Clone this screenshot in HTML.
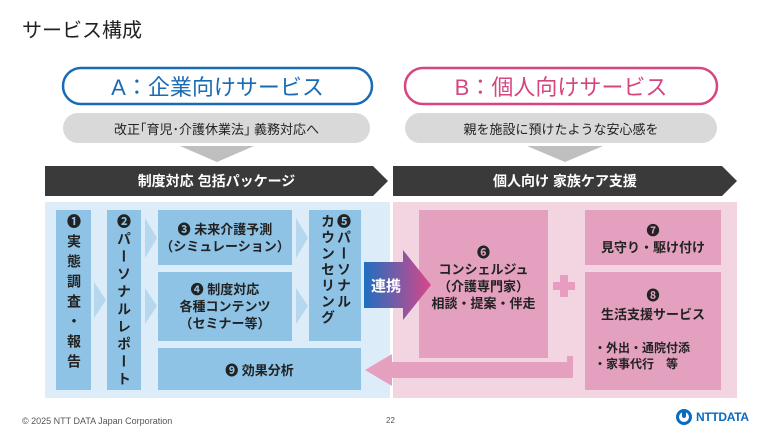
<!DOCTYPE html>
<html><head><meta charset="utf-8"><style>
*{margin:0;padding:0;box-sizing:border-box}
body{width:780px;height:439px;background:#fff;position:relative;overflow:hidden;font-family:"Liberation Sans","Noto Sans CJK JP",sans-serif;color:#222}
.a{position:absolute}
.c{display:flex;align-items:center;justify-content:center;text-align:center}
.v{writing-mode:vertical-rl;font-size:14px;line-height:16px;font-weight:bold}
</style></head><body>
<svg class="a" style="left:0;top:0" width="780" height="439">
<defs><linearGradient id="g" x1="0" x2="1"><stop offset="0" stop-color="#1e6fc0"/><stop offset="1" stop-color="#d9468a"/></linearGradient></defs>
<rect x="63" y="68" width="309" height="36" rx="18" fill="#fff" stroke="#1a6bb5" stroke-width="2.5"/>
<rect x="405" y="68" width="312" height="36" rx="18" fill="#fff" stroke="#d6457f" stroke-width="2.5"/>
<rect x="63" y="113" width="307" height="30" rx="15" fill="#d9d9d9"/>
<rect x="405" y="113" width="312" height="30" rx="15" fill="#d9d9d9"/>
<polygon points="180,146 254,146 217,162" fill="#bfbfbf"/>
<polygon points="527,146 603,146 565,162" fill="#bfbfbf"/>
<polygon points="45,166 373,166 388,181 373,196 45,196" fill="#3a3a3a"/>
<polygon points="393,166 722,166 737,181 722,196 393,196" fill="#3a3a3a"/>
<rect x="45" y="202" width="345" height="196" fill="#dcedf9"/>
<rect x="393" y="202" width="344" height="196" fill="#f3d5e1"/>
<g fill="#8ec3e6">
<rect x="56" y="210" width="35" height="180"/>
<rect x="107" y="210" width="34" height="180"/>
<rect x="158" y="210" width="134" height="55"/>
<rect x="158" y="272" width="134" height="69"/>
<rect x="309" y="210" width="52" height="131"/>
<rect x="158" y="348" width="203" height="42"/>
</g>
<g fill="#b5d8ef">
<polygon points="94,282 106,300 94,318"/>
<polygon points="145,218 157,238 145,258"/>
<polygon points="145,288 157,306 145,324"/>
<polygon points="296,218 308,238 296,258"/>
<polygon points="296,288 308,306 296,324"/>
</g>
<g fill="#e3a1bf">
<rect x="419" y="210" width="129" height="148"/>
<rect x="585" y="210" width="136" height="55"/>
<rect x="585" y="272" width="136" height="118"/>
<rect x="560" y="275" width="8" height="22" fill="#e89dc0"/>
<rect x="553" y="282" width="22" height="8" fill="#e89dc0"/>
</g>
<path d="M392,362 H567 V356 H573 V376 Q573,378 571,378 H392 V386 L365,370 L392,354 Z" fill="#e6a0bf"/>
<polygon points="364,262 403,262 403,250 431,285 403,320 403,308 364,308" fill="url(#g)"/>
</svg>
<div class="a" style="left:22px;top:14px;font-size:20px">サービス構成</div>
<div class="a c" style="left:63px;top:68px;width:309px;height:36px;font-size:22px;color:#1a6bb5">A：企業向けサービス</div>
<div class="a c" style="left:405px;top:68px;width:312px;height:36px;font-size:22px;color:#d6457f">B：個人向けサービス</div>
<div class="a c" style="left:63px;top:113px;width:307px;height:30px;font-size:13px">改正｢育児･介護休業法｣ 義務対応へ</div>
<div class="a c" style="left:405px;top:113px;width:312px;height:30px;font-size:13px">親を施設に預けたような安心感を</div>
<div class="a c" style="left:45px;top:166px;width:343px;height:30px;font-size:14px;color:#fff;font-weight:bold">制度対応 包括パッケージ</div>
<div class="a c" style="left:393px;top:166px;width:344px;height:30px;font-size:14px;color:#fff;font-weight:bold">個人向け 家族ケア支援</div>
<div class="a v" style="left:66px;top:214px;letter-spacing:6px">❶実態調査・報告</div>
<div class="a v" style="left:116px;top:214px;letter-spacing:3.5px">❷パーソナルレポート</div>
<div class="a v" style="left:320px;top:214px;line-height:16px;letter-spacing:2px">❺パーソナル<br>カウンセリング</div>
<div class="a c" style="left:158px;top:210px;width:134px;height:55px;font-size:13px;font-weight:bold;line-height:17px">❸ 未来介護予測<br>（シミュレーション）</div>
<div class="a c" style="left:158px;top:272px;width:134px;height:69px;font-size:13px;font-weight:bold;line-height:17px">❹ 制度対応<br>各種コンテンツ<br>（セミナー等）</div>
<div class="a c" style="left:158px;top:348px;width:203px;height:42px;font-size:13px;font-weight:bold">❾ 効果分析</div>
<div class="a c" style="left:364px;top:262px;width:44px;height:46px;font-size:15px;font-weight:bold;color:#fff">連携</div>
<div class="a" style="left:419px;top:244px;width:129px;text-align:center;font-size:13px;line-height:17px;font-weight:bold">❻<br>コンシェルジュ<br>（介護専門家）<br>相談・提案・伴走</div>
<div class="a" style="left:585px;top:222px;width:136px;text-align:center;font-size:13px;line-height:17px;font-weight:bold">❼<br>見守り・駆け付け</div>
<div class="a" style="left:585px;top:286px;width:136px;text-align:center;font-size:13px;line-height:19px;font-weight:bold">❽<br>生活支援サービス</div>
<div class="a" style="left:594px;top:340px;font-size:12px;line-height:16px;font-weight:bold">・外出・通院付添<br>・家事代行　等</div>
<div class="a" style="left:22px;top:416px;font-size:9px;color:#555">© 2025 NTT DATA Japan Corporation</div>
<div class="a" style="left:386px;top:416px;font-size:8px;color:#555">22</div>
<div class="a" style="left:676px;top:409px;width:16px;height:16px;border:3px solid #0a6cc0;border-radius:50%"></div>
<div class="a" style="left:682px;top:410px;width:4px;height:8px;background:#0a6cc0;border-radius:2px"></div>
<div class="a" style="left:696px;top:410px;font-size:12px;font-weight:bold;color:#0a6cc0;letter-spacing:-0.3px">NTTDATA</div>
</body></html>
